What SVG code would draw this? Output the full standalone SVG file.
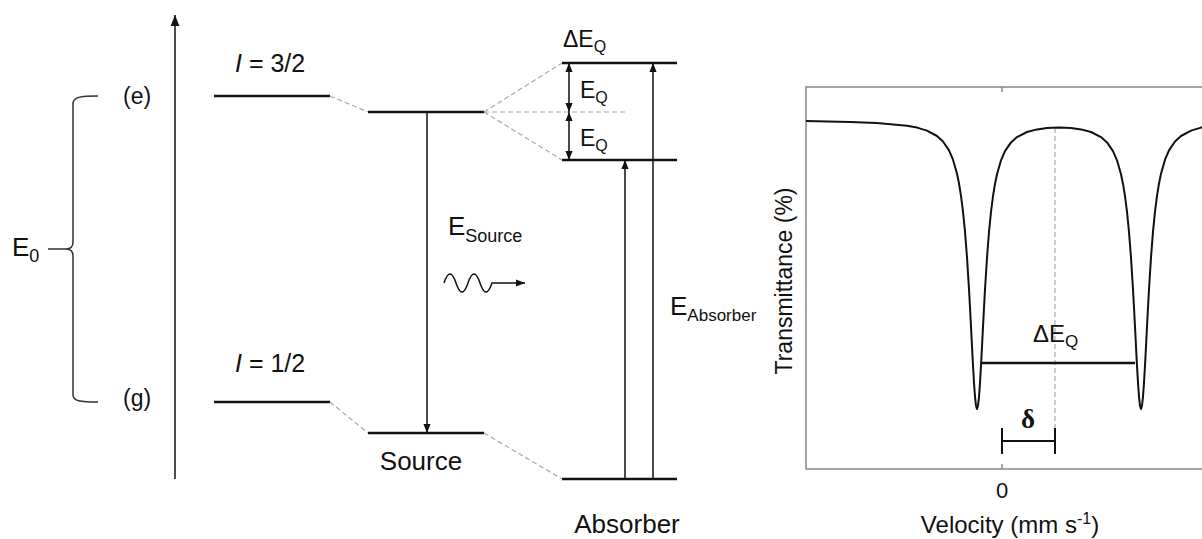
<svg xmlns="http://www.w3.org/2000/svg" width="1202" height="539" viewBox="0 0 1202 539">
<style>
text{font-family:"Liberation Sans",Arial,sans-serif;fill:#111}
.lvl{stroke:#111;stroke-width:2.5;fill:none}
.dash{stroke:#aaa;stroke-width:1.2;stroke-dasharray:5,3;fill:none}
.arr{stroke:#111;stroke-width:1.5;fill:none}
.frame{stroke:#888;stroke-width:1.5;fill:none}
</style>
<defs>
<marker id="ah" viewBox="0 0 10 10" refX="10" refY="5" markerWidth="9" markerHeight="9" markerUnits="userSpaceOnUse" orient="auto-start-reverse"><path d="M0,1L10,5L0,9z" fill="#111"/></marker>
<marker id="ahb" viewBox="0 0 10 10" refX="10" refY="5" markerWidth="11" markerHeight="11" markerUnits="userSpaceOnUse" orient="auto"><path d="M0,1L10,5L0,9z" fill="#111"/></marker>
</defs>
<rect width="1202" height="539" fill="#fff"/>

<g id="energy-axis"><line x1="175" y1="479" x2="175" y2="15" class="arr" marker-end="url(#ahb)"/></g>

<g id="brace">
<path d="M98,96 C80,96 73,97 73,104 L73,242 Q73,249 66,249 L48,249 M66,249 Q73,249 73,256 L73,395 C73,401 80,402 98,402" stroke="#333" stroke-width="1.5" fill="none"/>
<text x="12" y="256" font-size="26">E<tspan font-size="18" dy="6">0</tspan></text>
<text x="123" y="104" font-size="23">(e)</text>
<text x="123" y="406" font-size="23">(g)</text>
</g>

<g id="nucleus-levels">
<line x1="214" y1="96" x2="330" y2="96" class="lvl"/>
<line x1="214" y1="402" x2="330" y2="402" class="lvl"/>
<text x="235" y="72" font-size="25"><tspan font-style="italic">I</tspan> = 3/2</text>
<text x="235" y="372" font-size="25"><tspan font-style="italic">I</tspan> = 1/2</text>
</g>

<g id="source">
<line x1="368" y1="112" x2="484" y2="112" class="lvl"/>
<line x1="368" y1="433" x2="484" y2="433" class="lvl"/>
<text x="421" y="470" font-size="26" text-anchor="middle">Source</text>
<text x="448" y="235" font-size="26">E<tspan font-size="18" dy="7">Source</tspan></text>
</g>

<g id="absorber">
<line x1="562" y1="63" x2="677" y2="63" class="lvl"/>
<line x1="562" y1="160" x2="677" y2="160" class="lvl"/>
<line x1="562" y1="479" x2="677" y2="479" class="lvl"/>
<text x="627" y="533" font-size="26" text-anchor="middle">Absorber</text>
<text x="563" y="47" font-size="23">ΔE<tspan font-size="16" dy="5">Q</tspan></text>
<text x="580" y="98" font-size="23">E<tspan font-size="16" dy="5">Q</tspan></text>
<text x="580" y="146" font-size="23">E<tspan font-size="16" dy="5">Q</tspan></text>
<text x="670" y="315" font-size="26">E<tspan font-size="17" dy="6">Absorber</tspan></text>
</g>

<g id="connectors">
<line x1="330" y1="96" x2="368" y2="112" class="dash"/>
<line x1="330" y1="402" x2="368" y2="433" class="dash"/>
<line x1="484" y1="433" x2="562" y2="479" class="dash"/>
<line x1="484" y1="112" x2="562" y2="63" class="dash"/>
<line x1="484" y1="112" x2="562" y2="160" class="dash"/>
<line x1="484" y1="112" x2="628" y2="112" class="dash"/>
<line x1="427" y1="112" x2="427" y2="433" class="arr" marker-end="url(#ah)"/>
<line x1="569" y1="63" x2="569" y2="112" class="arr" marker-start="url(#ah)" marker-end="url(#ah)"/>
<line x1="569" y1="112" x2="569" y2="160" class="arr" marker-start="url(#ah)" marker-end="url(#ah)"/>
<line x1="625" y1="479" x2="625" y2="160" class="arr" marker-end="url(#ah)"/>
<line x1="653" y1="479" x2="653" y2="63" class="arr" marker-end="url(#ah)"/>
<path d="M444,283 q6,-18 12,0 t12,0 t12,0 t12,0 L525,283" class="arr" marker-end="url(#ah)"/>
</g>

<g id="spectrum">
<path d="M1202,87 H806 V469 H1202" class="frame"/>
<path d="M1002,87 v5 M1002,469 v-5" class="frame"/>
<line x1="1055" y1="128" x2="1055" y2="455" class="dash"/>
<polyline fill="none" stroke="#111" stroke-width="2" stroke-linejoin="round" points="806,121.1 850,121.9 877,122.9 907,125.7 917,127.6 927,130.6 937,136.0 943,141.5 949,150.4 953,159.7 957,173.8 959,183.5 961,195.8 963,211.6 965,231.7 967,257.4 969,289.3 970,307.5 971,326.7 972,346.4 973,365.5 974,382.7 975,396.6 976,405.7 977,409 978,405.8 979,396.8 980,382.9 981,365.6 982,346.5 983,326.9 984,307.7 985,289.5 987,257.7 989,232 991,211.9 993,196.2 995,183.9 997,174.2 1001,160.3 1005,151.1 1011,142.4 1017,137.1 1027,132 1037,129.4 1047,128.1 1059,127.6 1071,128.1 1081,129.4 1091,132 1101,137.1 1107,142.4 1113,151.1 1117,160.3 1121,174.2 1123,183.9 1125,196.2 1127,211.9 1129,232 1131,257.7 1133,289.5 1134,307.7 1135,326.9 1136,346.5 1137,365.6 1138,382.9 1139,396.8 1140,405.8 1141,409 1142,405.7 1143,396.6 1144,382.7 1145,365.5 1146,346.4 1147,326.7 1148,307.5 1149,289.3 1151,257.4 1153,231.7 1155,211.6 1157,195.8 1159,183.5 1161,173.8 1165,159.7 1169,150.4 1175,141.5 1181,136 1191,130.6 1201,127.6 1205,127"/>
<line x1="982" y1="363" x2="1135" y2="363" stroke="#111" stroke-width="2.5"/>
<path d="M1002,441 H1055 M1002,428 V454 M1055,428 V454" stroke="#111" stroke-width="2" fill="none"/>
<text x="1033" y="342" font-size="24">ΔE<tspan font-size="17" dy="5">Q</tspan></text>
<text x="1028" y="428" font-size="27" font-weight="bold" text-anchor="middle" style="font-family:'Liberation Serif',serif">δ</text>
<text x="1002" y="498" font-size="22" text-anchor="middle">0</text>
<text x="1010" y="533" font-size="24" text-anchor="middle">Velocity (mm s<tspan font-size="16" dy="-9">-1</tspan><tspan dy="9">)</tspan></text>
<text transform="translate(792,281) rotate(-90)" font-size="23" text-anchor="middle">Transmittance (%)</text>
</g>
</svg>
